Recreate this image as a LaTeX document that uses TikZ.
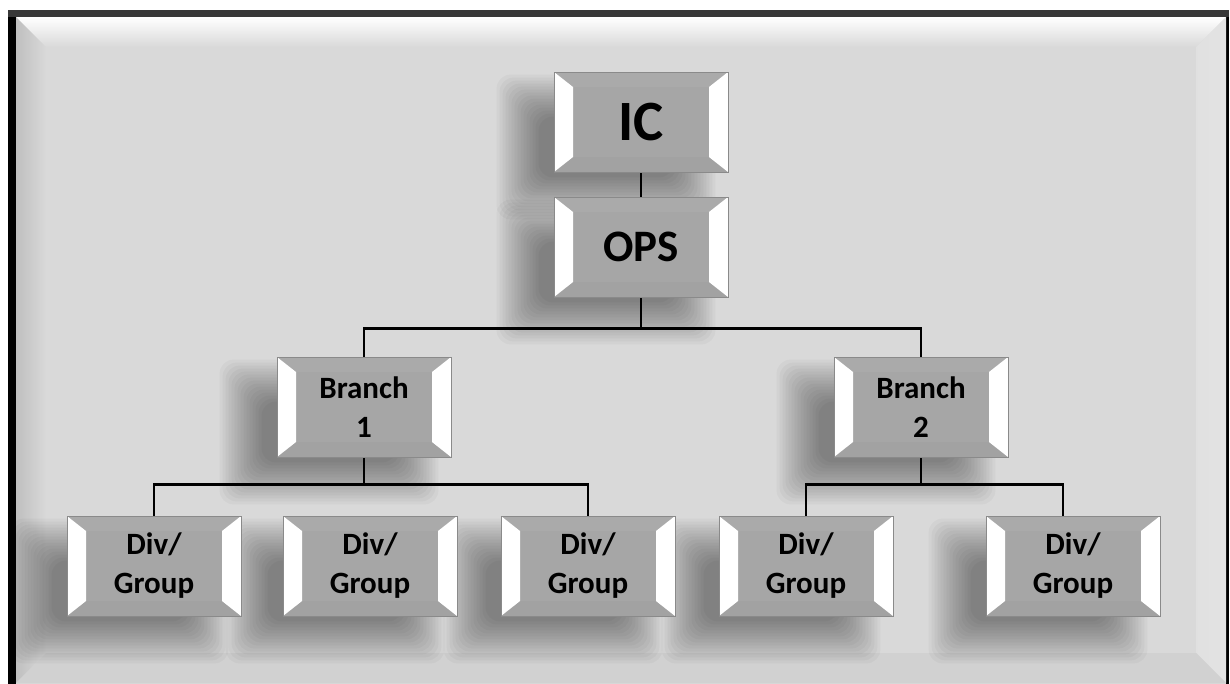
\documentclass[tikz,border=0pt]{standalone}
\usepackage{fontspec}
\setmainfont{Carlito}
\usetikzlibrary{calc}
\definecolor{bgc}{HTML}{D9D9D9}
\definecolor{face}{HTML}{A6A6A6}
\definecolor{facetop}{HTML}{AAAAAA}
\definecolor{facebot}{HTML}{A2A2A2}
\definecolor{edge}{HTML}{8A8A8A}
\pgfdeclarelayer{bg}
\pgfdeclarelayer{shd}
\pgfsetlayers{bg,shd,main}
\tikzset{
  bevbox/.style={draw=edge, line width=0.8pt, fill=face, minimum width=174pt, minimum height=100pt,
    inner sep=0pt, align=center, text=black,
    path picture={
      \coordinate (pnw) at (path picture bounding box.north west);
      \coordinate (pse) at (path picture bounding box.south east);
      \coordinate (pne) at (path picture bounding box.north east);
      \coordinate (psw) at (path picture bounding box.south west);
      \fill[facetop] (pnw) -- (pne) -- ($(pne)+(-19,15)$) -- ($(pnw)+(19,15)$) -- cycle;
      \fill[facebot] (psw) -- (pse) -- ($(pse)+(-19,-15)$) -- ($(psw)+(19,-15)$) -- cycle;
      \fill[white] (psw) -- (pnw) -- ($(pnw)+(19,15)$) -- ($(psw)+(19,-15)$) -- cycle;
      \fill[white] (pse) -- (pne) -- ($(pne)+(-19,15)$) -- ($(pse)+(-19,-15)$) -- cycle;
    }},
  bigtxt/.style={font=\fontsize{57}{60}\selectfont\bfseries},
  midtxt/.style={font=\fontsize{45}{50}\selectfont\bfseries},
  smalltxt/.style={font=\fontsize{31}{39}\selectfont\bfseries},
  conn/.style={draw=black, line width=2.2pt}
}
\begin{document}
\begin{tikzpicture}[x=1pt,y=-1pt]
\useasboundingbox (0,0) rectangle (1230,683);
% frame
\begin{pgfonlayer}{bg}
\fill[white] (0,0) rectangle (1230,683);
\fill[black] (8,10) rectangle (1229,700);
\fill[black!78] (8,10) rectangle (1229,17);
\fill[bgc] (16,17) rectangle (1226,700);
\shade[top color=white, bottom color=bgc] (16,17) -- (1226,17) -- (1196,47) -- (46,47) -- cycle;
\shade[left color=black!25, right color=black!15] (16,17) -- (46,47) -- (46,653) -- (16,683) -- cycle;
\shade[left color=black!12, right color=black!11] (1226,17) -- (1196,47) -- (1196,653) -- (1226,683) -- cycle;
\fill[black!18] (16,683) -- (46,653) -- (1196,653) -- (1226,683) -- cycle;
\end{pgfonlayer}
% boxes
\node[bevbox, bigtxt] (ic) at (641,122) {IC};
\node[bevbox, midtxt] (ops) at (641,247) {OPS};
\node[bevbox, smalltxt] (b1) at (364,407) {Branch\\1};
\node[bevbox, smalltxt] (b2) at (921,407) {Branch\\2};
\node[bevbox, smalltxt] (d1) at (154,566) {Div/\\Group};
\node[bevbox, smalltxt] (d2) at (370,566) {Div/\\Group};
\node[bevbox, smalltxt] (d3) at (588,566) {Div/\\Group};
\node[bevbox, smalltxt] (d4) at (806,566) {Div/\\Group};
\node[bevbox, smalltxt] (d5) at (1073,566) {Div/\\Group};
% shadows
\begin{pgfonlayer}{shd}
\foreach \n in {ic,ops,b1,b2,d1,d2,d3,d4,d5}{
  \foreach \e in {22,19,...,-20}{
    \fill[black, opacity=0.03, rounded corners=14pt]
      ($(\n.north west)+({-35-(\e)},{25-(\e)})$) rectangle ($(\n.south east)+({-35+(\e)},{25+(\e)})$);
  }
}
% connectors
\draw[conn] (ic.south) -- (ops.north);
\draw[conn] (ops.south) -- ++(0,31) coordinate (j0);
\draw[conn] (b1.north) |- (j0) -| (b2.north);
\draw[conn] (b1.south) -- ++(0,27) coordinate (j1);
\draw[conn] (d1.north) |- (j1) -| (d3.north);
\draw[conn] (b2.south) -- ++(0,27) coordinate (j2);
\draw[conn] (d4.north) |- (j2) -| ([xshift=-10pt]d5.north);
\end{pgfonlayer}
\end{tikzpicture}
\end{document}
